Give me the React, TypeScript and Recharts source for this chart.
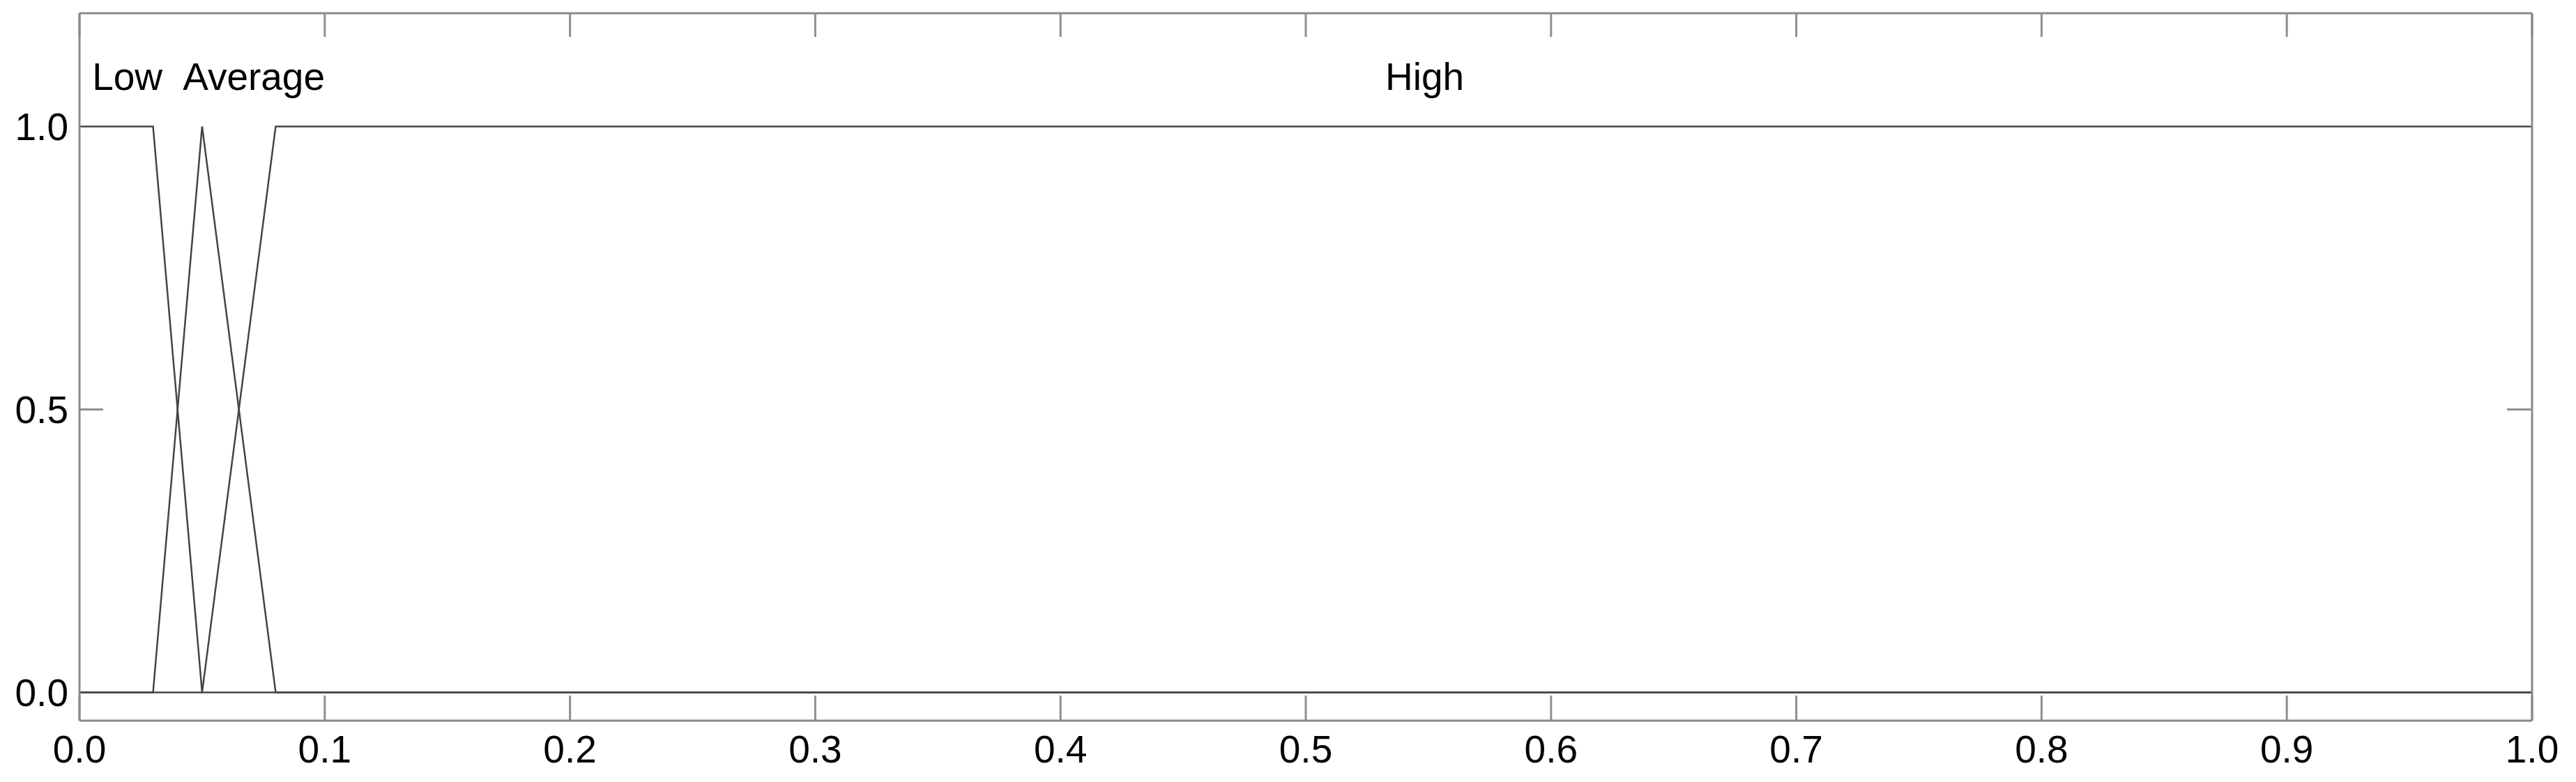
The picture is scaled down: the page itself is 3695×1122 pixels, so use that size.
import React from 'react';
import { ComposedChart, Line, Scatter, XAxis, YAxis } from 'recharts';

// Membership functions (x, membership)
const lowSeries = [
  { x: 0.0, y: 1 },
  { x: 0.03, y: 1 },
  { x: 0.05, y: 0 },
  { x: 1.0, y: 0 },
];
const averageSeries = [
  { x: 0.0, y: 0 },
  { x: 0.03, y: 0 },
  { x: 0.05, y: 1 },
  { x: 0.08, y: 0 },
  { x: 1.0, y: 0 },
];
const highSeries = [
  { x: 0.0, y: 0 },
  { x: 0.05, y: 0 },
  { x: 0.08, y: 1 },
  { x: 1.0, y: 1 },
];

const labelNames = ['Low', 'Average', 'High'];
const labelX = [0.0195, 0.0711, 0.5485];
const labelY = [1.064, 1.064, 1.064];

const xTicks = [0, 0.1, 0.2, 0.3, 0.4, 0.5, 0.6, 0.7, 0.8, 0.9, 1.0];
const yTicks = [0, 0.5, 1.0];
const yInnerTicks = [0.5];

const labelData = labelNames.map((name, i) => ({ x: labelX[i], y: labelY[i], name }));

const FONT = '"Liberation Sans", Arial, sans-serif';
const FRAME = '#8a8a8a';
const TICK = '#8f8f8f';
const LINE = '#444444';

const LabelShape = (props: any) => {
  const { cx, cy, payload } = props;
  return (
    <text x={cx} y={cy} textAnchor="middle" fontFamily={FONT} fontSize={55} fill="#000">
      {payload.name}
    </text>
  );
};

const xCommon = {
  type: 'number' as const,
  dataKey: 'x',
  domain: [0, 1] as [number, number],
  ticks: xTicks,
  interval: 0 as const,
  allowDataOverflow: true,
};
const yCommon = {
  type: 'number' as const,
  domain: [-0.05, 1.2] as [number, number],
  interval: 0 as const,
  allowDataOverflow: true,
};
const blank = () => '';

export default function App() {
  return (
    <div style={{ position: 'absolute', left: 0, top: 0, width: 3695, height: 1122, background: '#fff' }}>
      <ComposedChart
        width={3695}
        height={1122}
        margin={{ top: 19, right: 63, bottom: 0, left: 0 }}
      >
        <XAxis
          xAxisId="b"
          {...xCommon}
          tickFormatter={(v: number) => v.toFixed(1)}
          height={88}
          tickSize={-36}
          tickMargin={57}
          axisLine={{ stroke: FRAME, strokeWidth: 3 }}
          tickLine={{ stroke: TICK, strokeWidth: 3 }}
          tick={{ fill: '#000', fontSize: 55, fontFamily: FONT }}
        />
        <XAxis
          xAxisId="t"
          orientation="top"
          {...xCommon}
          mirror
          height={1}
          tickSize={34}
          tickFormatter={blank}
          tick={{ fontSize: 1, fill: 'none' }}
          axisLine={{ stroke: FRAME, strokeWidth: 3 }}
          tickLine={{ stroke: TICK, strokeWidth: 3 }}
        />
        <YAxis
          yAxisId="l"
          {...yCommon}
          ticks={yTicks}
          tickFormatter={(v: number) => v.toFixed(1)}
          width={114}
          tickSize={0}
          tickMargin={16}
          axisLine={{ stroke: FRAME, strokeWidth: 3 }}
          tickLine={false}
          tick={{ fill: '#000', fontSize: 55, fontFamily: FONT }}
        />
        <YAxis
          yAxisId="lm"
          {...yCommon}
          ticks={yInnerTicks}
          mirror
          width={1}
          tickSize={34}
          tickFormatter={blank}
          tick={{ fontSize: 1, fill: 'none' }}
          axisLine={false}
          tickLine={{ stroke: TICK, strokeWidth: 3 }}
        />
        <YAxis
          yAxisId="r"
          orientation="right"
          {...yCommon}
          ticks={yInnerTicks}
          mirror
          width={1}
          tickSize={36}
          tickFormatter={blank}
          tick={{ fontSize: 1, fill: 'none' }}
          axisLine={{ stroke: FRAME, strokeWidth: 3 }}
          tickLine={{ stroke: TICK, strokeWidth: 3 }}
        />
        <Line
          xAxisId="b"
          yAxisId="l"
          data={lowSeries}
          dataKey="y"
          type="linear"
          stroke={LINE}
          strokeWidth={2.5}
          dot={false}
          isAnimationActive={false}
        />
        <Line
          xAxisId="b"
          yAxisId="l"
          data={averageSeries}
          dataKey="y"
          type="linear"
          stroke={LINE}
          strokeWidth={2.5}
          dot={false}
          isAnimationActive={false}
        />
        <Line
          xAxisId="b"
          yAxisId="l"
          data={highSeries}
          dataKey="y"
          type="linear"
          stroke={LINE}
          strokeWidth={2.5}
          dot={false}
          isAnimationActive={false}
        />
        <Scatter
          xAxisId="b"
          yAxisId="l"
          data={labelData}
          dataKey="y"
          shape={<LabelShape />}
          isAnimationActive={false}
        />
      </ComposedChart>
    </div>
  );
}
